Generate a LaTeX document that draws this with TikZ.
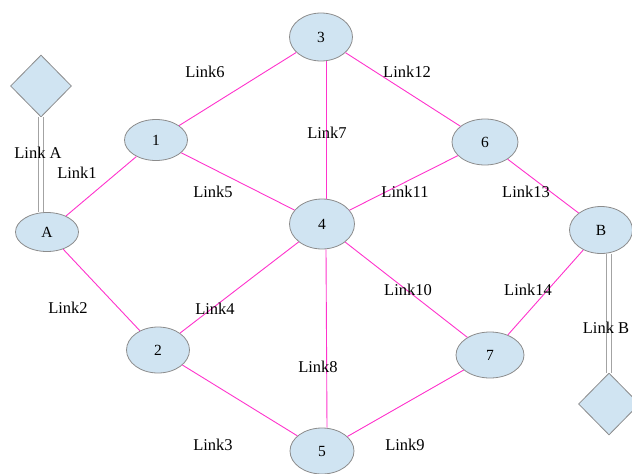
\documentclass[tikz,border=0pt]{standalone}
\usepackage{fontspec}
\setmainfont{Liberation Serif}
\usetikzlibrary{shapes.geometric}
\definecolor{nodefill}{HTML}{D0E4F2}
\definecolor{nodeline}{HTML}{8C8C8C}
\definecolor{edgecol}{HTML}{FF33CC}
\tikzset{
  ell/.style={ellipse, draw=nodeline, fill=nodefill, line width=0.8pt, inner sep=0pt, font=\fontsize{15.5}{15.5}\selectfont},
  dia/.style={diamond, draw=nodeline, fill=nodefill, line width=0.8pt, inner sep=0pt, minimum width=61pt, minimum height=62pt},
  edge/.style={draw=edgecol, line width=0.9pt},
  dbl/.style={draw=nodeline!80, line width=0.8pt, double=white, double distance=3.5pt},
  lbl/.style={font=\fontsize{16.5}{16.5}\selectfont, inner sep=0pt}
}
\begin{document}
\begin{tikzpicture}[x=1pt,y=-1pt]
\useasboundingbox (0,0) rectangle (632,474);
% nodes
\node[ell, minimum width=63pt, minimum height=48pt] (n3) at (321,37) {3};
\node[ell, minimum width=63pt, minimum height=41pt] (n1) at (156,140) {1};
\node[ell, minimum width=63pt, minimum height=39pt] (nA) at (47,232) {A};
\node[ell, minimum width=65pt, minimum height=50pt] (n4) at (322,224) {4};
\node[ell, minimum width=66pt, minimum height=46pt] (n6) at (485,142) {6};
\node[ell, minimum width=63pt, minimum height=47pt] (nB) at (601,230) {B};
\node[ell, minimum width=63pt, minimum height=46pt] (n2) at (158,350) {2};
\node[ell, minimum width=68pt, minimum height=46pt] (n7) at (490,355) {7};
\node[ell, minimum width=64pt, minimum height=46pt] (n5) at (322,451) {5};
\node[dia] (dA) at (41,86) {};
\node[dia] (dB) at (609,404) {};
% double links
\draw[dbl] (dA.south) -- (dA.south |- nA.north);
\draw[dbl] (dB.north |- nB.south) -- (dB.north);
\node[lbl] (lA) at (38,153) {Link A};
\node[lbl] (lB) at (606,328) {Link B};
% edges
\draw[edge] (nA) -- (n1);
\draw[edge] (nA) -- (n2);
\draw[edge] (n1) -- (n3);
\draw[edge] (n1) -- (n4);
\draw[edge] ([xshift=5pt]n3.south) -- ([xshift=4pt]n4.north);
\draw[edge] (n3) -- (n6);
\draw[edge] (n6) -- (n4);
\draw[edge] (n6) -- (nB);
\draw[edge] (n4) -- (n2);
\draw[edge] (n4) -- (n7);
\draw[edge] ([xshift=4pt]n4.south) -- ([xshift=5pt]n5.north);
\draw[edge] (n2) -- (n5);
\draw[edge] (n5) -- (n7);
\draw[edge] (nB) -- (n7);
% labels
\node[lbl] (l1) at (77,173) {Link1};
\node[lbl] (l2) at (68,308) {Link2};
\node[lbl] (l6) at (205,72) {Link6};
\node[lbl] (l5) at (213,192) {Link5};
\node[lbl] (l7) at (327,133) {Link7};
\node[lbl] (l12) at (407,72) {Link12};
\node[lbl] (l11) at (405,192) {Link11};
\node[lbl] (l13) at (526,192) {Link13};
\node[lbl] (l4) at (215,309) {Link4};
\node[lbl] (l10) at (408,290) {Link10};
\node[lbl] (l8) at (318,367) {Link8};
\node[lbl] (l3) at (213,445) {Link3};
\node[lbl] (l9) at (405,445) {Link9};
\node[lbl] (l14) at (528,290) {Link14};
\end{tikzpicture}
\end{document}
